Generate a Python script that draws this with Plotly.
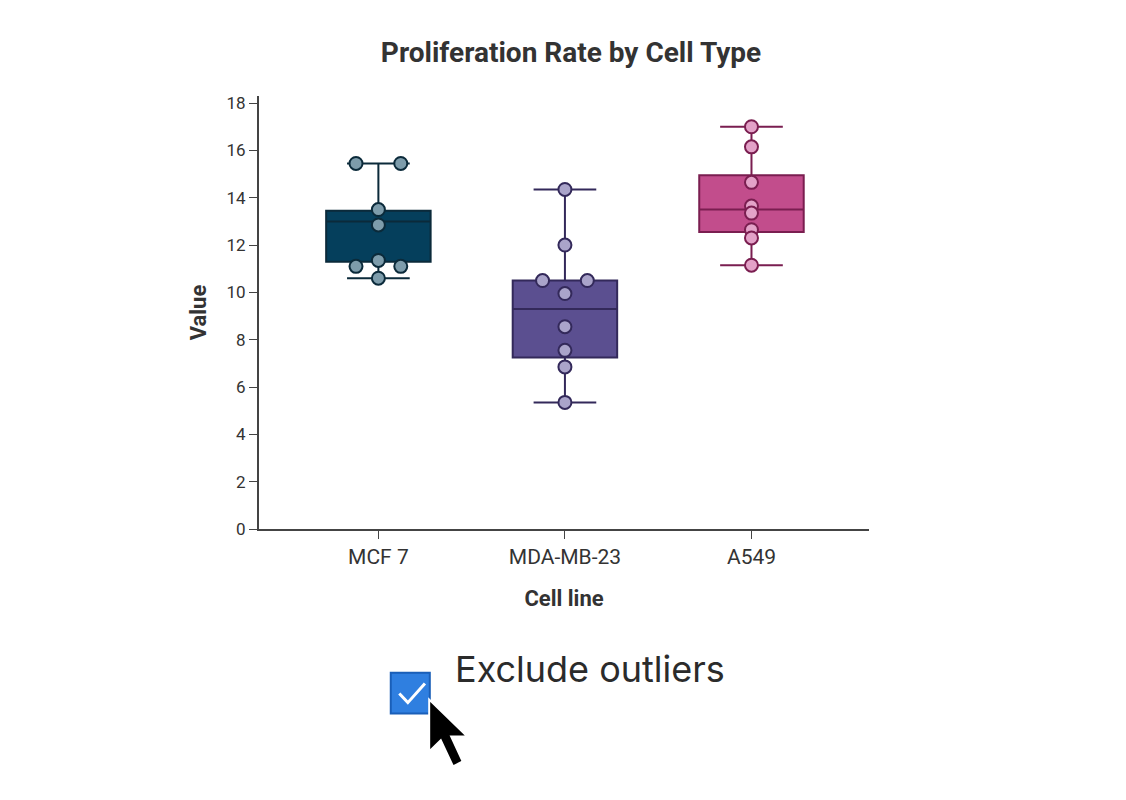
import plotly.graph_objects as go

# ---- data ----
cell_lines = ["MCF 7", "MDA-MB-23", "A549"]

mcf7_vals = [15.45, 15.45, 13.5, 12.85, 11.35, 11.1, 11.1, 10.6]
mcf7_off = [-0.12, 0.12, 0.0, 0.0, 0.0, -0.12, 0.12, 0.0]
mda_vals = [14.35, 12.0, 10.5, 10.5, 9.95, 8.55, 7.55, 6.85, 5.35]
mda_off = [0.0, 0.0, -0.12, 0.12, 0.0, 0.0, 0.0, 0.0, 0.0]
a549_vals = [17.0, 16.15, 14.65, 13.65, 13.35, 12.65, 12.3, 11.15]
a549_off = [0.0] * 8

q1 = [11.3, 7.25, 12.55]
median = [13.0, 9.3, 13.5]
q3 = [13.45, 10.5, 14.95]
lower = [10.6, 5.35, 11.15]
upper = [15.45, 14.35, 17.0]

fills = ["#053f5c", "#5b4f90", "#c24d8c"]
lines = ["#0b2a3a", "#33295a", "#7a1e50"]
dots = ["#7d9cab", "#aaa4ca", "#e3a2c8"]

fig = go.Figure()
series = [(mcf7_vals, mcf7_off), (mda_vals, mda_off), (a549_vals, a549_off)]
for i in range(3):
    fig.add_trace(go.Box(
        x=[i], q1=[q1[i]], median=[median[i]], q3=[q3[i]],
        lowerfence=[lower[i]], upperfence=[upper[i]],
        width=0.56, whiskerwidth=0.6, fillcolor=fills[i],
        line=dict(color=lines[i], width=2), boxpoints=False,
        showlegend=False, hoverinfo="skip"))
    vals, off = series[i]
    fig.add_trace(go.Scatter(
        x=[i + o for o in off], y=vals, mode="markers", showlegend=False,
        marker=dict(size=13, color=dots[i], line=dict(color=lines[i], width=2))))

fig.update_layout(
    width=1126, height=800, paper_bgcolor="white", plot_bgcolor="white",
    margin=dict(l=251, r=265, t=88, b=279),
    font=dict(family="Roboto, sans-serif", color="#333"),
    title=dict(text="<b>Proliferation Rate by Cell Type</b>", x=0.5, y=0.957,
               xanchor="center", font=dict(size=28, color="#333")),
)
fig.update_xaxes(range=[-0.64, 2.63], tickvals=[0, 1, 2], ticktext=cell_lines,
                 showline=True, linecolor="#444", linewidth=2, ticks="outside",
                 tickcolor="#444", ticklen=8, showgrid=False, zeroline=False,
                 tickfont=dict(size=21, color="#333"),
                 title=dict(text="<b>Cell line</b>", font=dict(size=22, color="#333"), standoff=22))
fig.update_yaxes(range=[0, 18.3], tickvals=list(range(0, 19, 2)), showline=True,
                 linecolor="#444", linewidth=2, ticks="outside", tickcolor="#444",
                 ticklen=8, showgrid=False, zeroline=False,
                 tickfont=dict(size=17, color="#333"),
                 title=dict(text="<b>Value</b>", font=dict(size=22, color="#333"), standoff=14))

# checkbox control under the chart
fig.add_shape(type="rect", xref="paper", yref="paper", x0=0.216, x1=0.28,
              y0=-0.426, y1=-0.332, fillcolor="#2f7fe0", line=dict(color="#1a5fb8", width=2))
fig.add_shape(type="path", xref="paper", yref="paper",
              path="M 0.230 -0.380 L 0.244 -0.401 L 0.272 -0.357",
              line=dict(color="white", width=3))
fig.add_annotation(xref="paper", yref="paper", x=0.318, y=-0.378, xanchor="left",
                   text="Exclude outliers", showarrow=False,
                   font=dict(size=36, color="#2b2b2b", family="Inter, Roboto, sans-serif"))
# mouse pointer
fig.add_shape(type="path", xref="paper", yref="paper",
              path="M 0.279 -0.394 L 0.279 -0.514 L 0.298 -0.488 L 0.318 -0.548 "
                   "L 0.334 -0.537 L 0.315 -0.479 L 0.341 -0.479 Z",
              fillcolor="black", line=dict(color="white", width=2))

fig.write_html("out.html")
